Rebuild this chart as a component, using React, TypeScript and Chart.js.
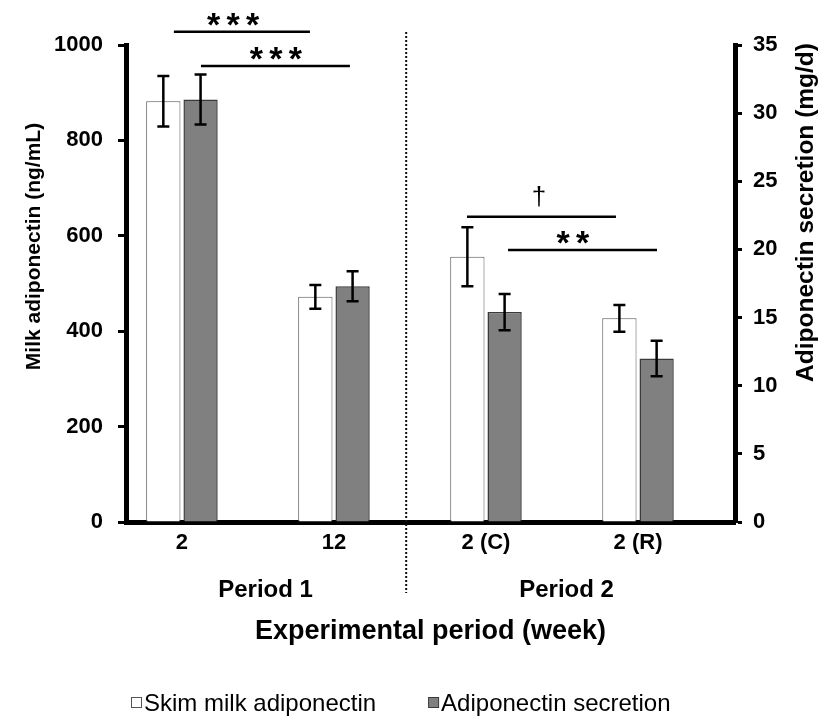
import React, { useEffect, useRef } from "react";
import { Chart, registerables } from "chart.js";

Chart.register(...registerables);

// ---- data ----
const categories = ["2", "12", "2 (C)", "2 (R)"];
const periodNames = ["Period 1", "Period 2"];
const periodCenters = [1.55, 3.53];

const milkAdiponectin = [882, 472, 556, 427];
const milkAdiponectinErr = [53, 25, 62, 28];
const secretion = [31.0, 17.3, 15.4, 12.0];
const secretionErr = [1.83, 1.1, 1.33, 1.3];

const sigLabels = ["***", "***", "†", "**"];
const sigFrom = [0.947, 1.125, 2.875, 3.145];
const sigTo = [1.842, 2.105, 3.855, 4.125];
const sigLevel = [1028, 956, 640, 570];
const sigLabelX = [1.336, 1.618, 3.349, 3.572];

const dividerAt = 2.475;

const FONT = "'Liberation Sans', Arial, sans-serif";

const leftTitle = "Milk adiponectin (ng/mL)";
const rightTitle = "Adiponectin secretion (mg/d)";
const xTitle = "Experimental period (week)";

const decorPlugin = {
  id: "decor",
  afterDatasetsDraw(chart: any) {
    const ctx = chart.ctx;
    const errs = [milkAdiponectinErr, secretionErr];
    ctx.save();
    chart.data.datasets.forEach((ds: any, di: number) => {
      const meta = chart.getDatasetMeta(di);
      const scale = chart.scales[ds.yAxisID];
      meta.data.forEach((el: any, i: number) => {
        const v = ds.data[i].y;
        const e = errs[di][i];
        const x = el.x;
        const yT = scale.getPixelForValue(v + e);
        const yB = scale.getPixelForValue(v - e);
        ctx.strokeStyle = "#000";
        ctx.lineWidth = 2.5;
        ctx.beginPath();
        ctx.moveTo(x, yT);
        ctx.lineTo(x, yB);
        ctx.moveTo(x - 6, yT);
        ctx.lineTo(x + 6, yT);
        ctx.moveTo(x - 6, yB);
        ctx.lineTo(x + 6, yB);
        ctx.stroke();
      });
    });
    ctx.restore();
  },
  afterDraw(chart: any) {
    const ctx = chart.ctx;
    const xs = chart.scales.x;
    const ys = chart.scales.y;
    const area = chart.chartArea;
    ctx.save();
    // significance lines
    sigLabels.forEach((lab, i) => {
      const x1 = xs.getPixelForValue(sigFrom[i]);
      const x2 = xs.getPixelForValue(sigTo[i]);
      const y = ys.getPixelForValue(sigLevel[i]);
      ctx.strokeStyle = "#000";
      ctx.lineWidth = 2.5;
      ctx.beginPath();
      ctx.moveTo(x1, y);
      ctx.lineTo(x2, y);
      ctx.stroke();
      const cx = xs.getPixelForValue(sigLabelX[i]);
      ctx.fillStyle = "#000";
      ctx.textAlign = "center";
      ctx.textBaseline = "alphabetic";
      if (lab === "†") {
        ctx.font = `26px ${FONT}`;
        ctx.fillText(lab, cx, y - 12);
      } else {
        ctx.font = `bold 34px ${FONT}`;
        const n = lab.length;
        const sp = 19.5;
        for (let k = 0; k < n; k++) {
          ctx.fillText("*", cx + (k - (n - 1) / 2) * sp, y + 4);
        }
      }
    });
    // dotted divider
    const dx = xs.getPixelForValue(dividerAt);
    ctx.strokeStyle = "#111";
    ctx.lineWidth = 2;
    ctx.setLineDash([2, 2]);
    ctx.beginPath();
    ctx.moveTo(dx, area.top - 13);
    ctx.lineTo(dx, area.bottom + 71);
    ctx.stroke();
    ctx.setLineDash([]);
    // period labels
    ctx.fillStyle = "#000";
    ctx.font = `bold 24px ${FONT}`;
    ctx.textAlign = "center";
    ctx.textBaseline = "middle";
    periodNames.forEach((p, i) => {
      ctx.fillText(p, xs.getPixelForValue(periodCenters[i]), area.bottom + 68.5);
    });
    // axis titles
    const midY = (area.top + area.bottom) / 2;
    ctx.save();
    ctx.translate(34, midY - 37);
    ctx.rotate(-Math.PI / 2);
    ctx.font = `bold 21px ${FONT}`;
    ctx.fillText(leftTitle, 0, 0);
    ctx.restore();
    ctx.save();
    ctx.translate(806, midY - 71);
    ctx.rotate(-Math.PI / 2);
    ctx.font = `bold 24.5px ${FONT}`;
    ctx.fillText(rightTitle, 0, 0);
    ctx.restore();
    // legend
    ctx.font = `24px ${FONT}`;
    ctx.textAlign = "left";
    ctx.textBaseline = "middle";
    const ly = 703;
    let lx = 131;
    chart.data.datasets.forEach((ds: any) => {
      ctx.fillStyle = ds.backgroundColor;
      ctx.strokeStyle = ds.borderColor;
      ctx.lineWidth = 1;
      ctx.fillRect(lx + 0.5, ly - 5.5, 10, 10);
      ctx.strokeRect(lx + 0.5, ly - 5.5, 10, 10);
      ctx.fillStyle = "#000";
      ctx.fillText(ds.label, lx + 13, ly + 1);
      lx += 13 + ctx.measureText(ds.label).width + 52;
    });
    ctx.restore();
  },
};

export default function App() {
  const ref = useRef<HTMLCanvasElement | null>(null);
  useEffect(() => {
    if (!ref.current) return;
    const chart = new Chart(ref.current, {
      type: "bar",
      data: {
        datasets: [
          {
            label: "Skim milk adiponectin",
            data: milkAdiponectin.map((v, i) => ({ x: i + 1, y: v })),
            yAxisID: "y",
            backgroundColor: "#ffffff",
            borderColor: "#555555",
            borderWidth: 1,
            categoryPercentage: 0.49,
            barPercentage: 0.92,
          },
          {
            label: "Adiponectin secretion",
            data: secretion.map((v, i) => ({ x: i + 1, y: v })),
            yAxisID: "y1",
            backgroundColor: "#808080",
            borderColor: "#3a3a3a",
            borderWidth: 1.5,
            categoryPercentage: 0.49,
            barPercentage: 0.92,
          },
        ],
      },
      options: {
        animation: false,
        responsive: true,
        maintainAspectRatio: false,
        layout: { padding: { top: 45, bottom: 72, left: 0, right: 0 } },
        plugins: {
          legend: { display: false },
          tooltip: { enabled: false },
        },
        scales: {
          x: {
            type: "linear",
            bounds: "data",
            offset: false,
            min: 0.632,
            max: 4.638,
            afterBuildTicks: (s: any) => {
              s.ticks = categories.map((_, i) => ({ value: i + 1 }));
            },
            afterFit: (s: any) => {
              s.height = 126;
            },
            ticks: {
              callback: (v: any) => categories[Math.round(v) - 1] ?? "",
              font: { family: FONT, size: 22, weight: "bold" },
              color: "#000",
              padding: 8,
              autoSkip: false,
              maxRotation: 0,
            },
            grid: { display: false, drawTicks: false, offset: false },
            border: { display: true, color: "#000", width: 5 },
            title: {
              display: true,
              text: xTitle,
              font: { family: FONT, size: 27, weight: "bold" },
              color: "#000",
              padding: { top: 0, bottom: 0 },
            },
          },
          y: {
            type: "linear",
            position: "left",
            min: 0,
            max: 1000,
            afterFit: (s: any) => {
              s.width = 126;
            },
            ticks: {
              stepSize: 200,
              callback: (v: any) => String(v),
              font: { family: FONT, size: 22, weight: "bold" },
              color: "#000",
              padding: 15,
            },
            grid: {
              drawOnChartArea: false,
              tickLength: 8,
              tickWidth: 3,
              tickColor: "#000",
              color: "#000",
            },
            border: { color: "#000", width: 5 },
          },
          y1: {
            type: "linear",
            position: "right",
            min: 0,
            max: 35,
            afterFit: (s: any) => {
              s.width = 86;
            },
            ticks: {
              stepSize: 5,
              callback: (v: any) => String(v),
              font: { family: FONT, size: 22, weight: "bold" },
              color: "#000",
              padding: 11,
            },
            grid: {
              drawOnChartArea: false,
              tickLength: 7,
              tickWidth: 3,
              tickColor: "#000",
              color: "#000",
            },
            border: { color: "#000", width: 5 },
          },
        },
      } as any,
      plugins: [decorPlugin],
    });
    return () => chart.destroy();
  }, []);
  return (
    <div style={{ position: "fixed", left: 0, top: 0, width: 821, height: 720, background: "#fff" }}>
      <canvas ref={ref} style={{ display: "block" }} />
    </div>
  );
}
